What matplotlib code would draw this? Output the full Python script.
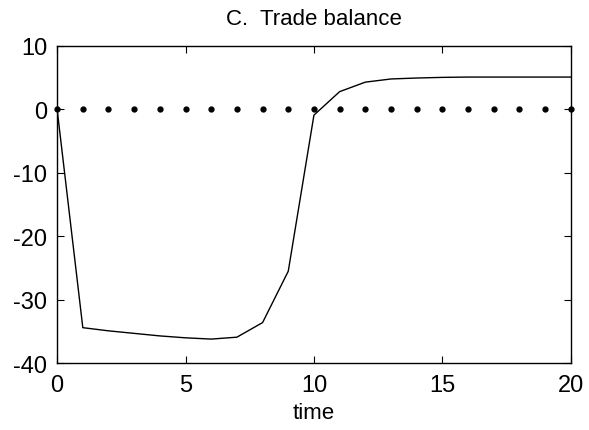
import numpy as np
import matplotlib.pyplot as plt

plt.rcParams['font.family'] = ['Liberation Sans', 'DejaVu Sans']
plt.rcParams['axes.unicode_minus'] = False

t = np.arange(0, 21)
trade_balance = [0, -34.4, -34.9, -35.3, -35.7, -36.0, -36.2, -35.9, -33.6, -25.5,
                 -0.9, 2.8, 4.3, 4.8, 4.95, 5.05, 5.1, 5.1, 5.1, 5.1, 5.1]
baseline = np.zeros(len(t))

fig = plt.figure(figsize=(5.89, 4.31), dpi=100)
ax = fig.add_axes([0.097, 0.155, 0.872, 0.736])

ax.plot(t, trade_balance, color='black', linewidth=1.0)
ax.plot(t, baseline, linestyle='none', marker='o', markersize=3.5,
        color='black', clip_on=False)

ax.set_xlim(0, 20)
ax.set_ylim(-40, 10)
ax.set_xticks([0, 5, 10, 15, 20])
ax.set_yticks([-40, -30, -20, -10, 0, 10])
ax.tick_params(direction='in', top=True, right=True, length=5, width=0.8,
               labelsize=17)
ax.tick_params(axis='x', pad=8)
ax.tick_params(axis='y', pad=7)
for s in ax.spines.values():
    s.set_linewidth(1.0)

ax.set_xlabel('time', fontsize=16, labelpad=4)
ax.set_title('C.  Trade balance', fontsize=16, pad=16)

fig.savefig('out.png', dpi=100)
